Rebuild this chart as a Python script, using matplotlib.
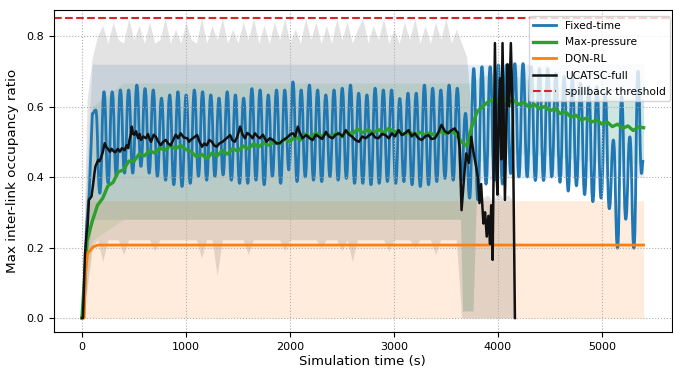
import numpy as np
import matplotlib
matplotlib.use("Agg")
import matplotlib.pyplot as plt
from matplotlib.path import Path
from matplotlib.patches import PathPatch

# ---- Fixed-time: one peak / one trough per signal cycle ----
cycle_s = 79
ft_start_t = [0, 25, 44, 70, 100]
ft_start_v = [0.0, 0.05, 0.26, 0.35, 0.58]
ft_peaks = [0.59, 0.642, 0.642, 0.647, 0.647, 0.661, 0.651, 0.647, 0.624, 0.633,
            0.642, 0.633, 0.647, 0.642, 0.633, 0.624, 0.642, 0.633, 0.624, 0.651,
            0.647, 0.633, 0.647, 0.647, 0.670, 0.647,
            0.661, 0.647, 0.633, 0.647, 0.652, 0.661, 0.638, 0.633, 0.652, 0.647,
            0.647, 0.623, 0.638, 0.638, 0.661, 0.652, 0.647, 0.661, 0.652,
            0.581,
            0.708, 0.713, 0.713, 0.718, 0.718, 0.722, 0.722, 0.713, 0.708,
            0.708, 0.694, 0.685, 0.680, 0.666, 0.656, 0.656, 0.637,
            0.505, 0.628, 0.514, 0.70]
ft_troughs = [0.354, 0.383, 0.402, 0.411, 0.411, 0.430, 0.411, 0.402, 0.391, 0.378,
              0.373, 0.382, 0.402, 0.391, 0.402, 0.406, 0.391, 0.382, 0.382, 0.391,
              0.378, 0.402, 0.382, 0.420, 0.387, 0.400,
              0.391, 0.387, 0.401, 0.391, 0.396, 0.382, 0.382, 0.378, 0.382, 0.387,
              0.382, 0.387, 0.378, 0.373, 0.378, 0.387, 0.396, 0.391, 0.391,
              0.34,
              0.335, 0.38, 0.39, 0.38, 0.41, 0.40, 0.40, 0.39, 0.39, 0.40,
              0.385, 0.36, 0.375, 0.35, 0.33, 0.34, 0.31, 0.198, 0.28, 0.198]
ft_end_t = [5380, 5395]
ft_end_v = [0.41, 0.445]

# ---- Max-pressure (sampled every 50 s) ----
mp_step = 50
mp_vals = [0.0, 0.22, 0.275, 0.32, 0.34, 0.375, 0.385, 0.415, 0.42, 0.445,
           0.445, 0.465, 0.46, 0.475, 0.468, 0.482, 0.476, 0.49, 0.48, 0.49,
           0.478, 0.472, 0.458, 0.465, 0.452, 0.468, 0.46, 0.475, 0.465, 0.48,
           0.474, 0.488, 0.48, 0.494, 0.486, 0.497, 0.49, 0.50, 0.494, 0.508,
           0.50, 0.515, 0.505, 0.522, 0.512, 0.525, 0.515, 0.524, 0.514, 0.526,
           0.515, 0.53, 0.522, 0.536, 0.526, 0.534, 0.524, 0.535, 0.526, 0.538,
           0.528, 0.53, 0.52, 0.528, 0.518, 0.527, 0.519, 0.526, 0.516, 0.53,
           0.522, 0.532, 0.52, 0.50, 0.488, 0.545, 0.585, 0.60, 0.612, 0.62,
           0.612, 0.622, 0.612, 0.618, 0.606, 0.612, 0.598, 0.606, 0.594, 0.60,
           0.588, 0.594, 0.58, 0.585, 0.57, 0.575, 0.562, 0.567, 0.556, 0.562,
           0.55, 0.556, 0.543, 0.55, 0.538, 0.545, 0.532, 0.542, 0.54]

# ---- DQN-RL ----
dqn_t = [0, 22, 35, 54, 76, 108, 156, 5400]
dqn_v = [0.0, 0.0, 0.127, 0.184, 0.19, 0.202, 0.207, 0.207]

# ---- UCATSC-full ----
uc_t = [0, 10, 29, 45, 54, 67, 80, 92, 108, 120, 130, 145, 156, 170, 187, 200, 219,
        235, 250, 270, 285, 298, 320, 346, 365, 385, 410, 430, 445, 457, 470, 479,
        492, 505, 520, 540, 555, 568, 590, 616, 635, 650, 664, 690, 711, 735, 759,
        780, 806, 830, 854, 878, 902, 925, 949, 980, 1013, 1030, 1045, 1075, 1108,
        1130, 1155, 1175, 1200, 1225, 1250, 1270, 1295, 1320, 1352, 1390, 1425,
        1445, 1470, 1495, 1521, 1545, 1568, 1590, 1616, 1640, 1663, 1690, 1711,
        1740, 1774, 1805, 1838, 1870, 1902, 1935, 1965, 2000, 2029, 2050, 2076,
        2092, 2120, 2156, 2190, 2219, 2250, 2280, 2310, 2346, 2375, 2410, 2440,
        2473, 2505, 2536, 2570, 2600, 2630, 2664, 2695, 2727, 2760, 2790, 2820,
        2850, 2885, 2917, 2950, 2980, 3010, 3045, 3076, 3110, 3140, 3170, 3200,
        3235, 3267, 3300, 3330, 3360, 3394, 3425, 3457, 3490, 3521, 3550, 3584,
        3600, 3616, 3632, 3650, 3664, 3680, 3695, 3720, 3743, 3765, 3790, 3806,
        3822, 3838, 3860, 3876, 3892, 3908, 3924, 3935, 3949, 3971, 3985, 3995,
        4008, 4020, 4032, 4044, 4067, 4092, 4108, 4124, 4143, 4163]
uc_v = [0.0, 0.0, 0.18, 0.24, 0.26, 0.335, 0.34, 0.345, 0.38, 0.41, 0.43, 0.44,
        0.448, 0.445, 0.458, 0.47, 0.496, 0.485, 0.48, 0.472, 0.48, 0.475, 0.47,
        0.48, 0.472, 0.482, 0.476, 0.49, 0.482, 0.505, 0.52, 0.543, 0.522, 0.52,
        0.53, 0.51, 0.522, 0.505, 0.515, 0.51, 0.522, 0.508, 0.50, 0.52, 0.514,
        0.50, 0.49, 0.50, 0.505, 0.495, 0.49, 0.505, 0.52, 0.51, 0.524, 0.512,
        0.51, 0.50, 0.505, 0.512, 0.519, 0.50, 0.486, 0.495, 0.49, 0.505, 0.50,
        0.49, 0.486, 0.495, 0.50, 0.51, 0.519, 0.505, 0.50, 0.515, 0.543, 0.52,
        0.51, 0.525, 0.519, 0.51, 0.524, 0.515, 0.51, 0.52, 0.50, 0.51, 0.505,
        0.495, 0.496, 0.505, 0.51, 0.52, 0.524, 0.515, 0.543, 0.528, 0.51, 0.519,
        0.51, 0.505, 0.52, 0.514, 0.508, 0.528, 0.515, 0.51, 0.52, 0.524, 0.515,
        0.533, 0.52, 0.514, 0.505, 0.50, 0.515, 0.51, 0.518, 0.524, 0.512, 0.51,
        0.522, 0.519, 0.51, 0.524, 0.515, 0.533, 0.519, 0.525, 0.533, 0.515,
        0.524, 0.51, 0.505, 0.515, 0.519, 0.508, 0.51, 0.525, 0.548, 0.53, 0.524,
        0.532, 0.538, 0.53, 0.526, 0.48, 0.306, 0.36, 0.42, 0.467, 0.44, 0.514,
        0.47, 0.43, 0.40, 0.326, 0.38, 0.268, 0.30, 0.231, 0.29, 0.21, 0.32,
        0.165, 0.78, 0.42, 0.35, 0.60, 0.68, 0.45, 0.78, 0.335, 0.72, 0.60, 0.78,
        0.56, 0.0]

# ---- spread bands across runs ----
ft_band_t = [0, 50, 100, 3640, 3660, 3760, 3800, 4200, 5140, 5150, 5160, 5300,
             5310, 5320, 5400]
ft_band_lo = [0.0, 0.15, 0.28, 0.28, 0.02, 0.02, 0.39, 0.40, 0.40, 0.19, 0.40,
              0.40, 0.19, 0.40, 0.40]
ft_band_hi = [0.0, 0.45, 0.72, 0.72, 0.72, 0.72, 0.72, 0.72, 0.72, 0.72, 0.72,
              0.72, 0.72, 0.72, 0.72]

mp_band_t = [0, 50, 100, 400, 3640, 3660, 3760, 3800, 4000, 4500, 5000, 5400]
mp_band_lo = [0.0, 0.10, 0.22, 0.28, 0.28, 0.02, 0.02, 0.44, 0.47, 0.46, 0.44, 0.44]
mp_band_hi = [0.0, 0.40, 0.60, 0.667, 0.667, 0.667, 0.667, 0.68, 0.70, 0.66, 0.63, 0.62]

dqn_band_t = [0, 22, 35, 5400]
dqn_band_lo = [0.0, 0.0, 0.0, 0.0]
dqn_band_hi = [0.0, 0.0, 0.333, 0.333]

uc_band_step = 50
uc_band_hi = [0.0, 0.62, 0.74, 0.80, 0.83, 0.78, 0.84, 0.79, 0.78, 0.85,
              0.79, 0.83, 0.78, 0.84, 0.78, 0.79, 0.85, 0.78, 0.82, 0.78,
              0.84, 0.79, 0.78, 0.85, 0.78, 0.83, 0.79, 0.85, 0.78, 0.82,
              0.78, 0.84, 0.79, 0.85, 0.78, 0.83, 0.78, 0.84, 0.79, 0.85,
              0.78, 0.82, 0.78, 0.85, 0.79, 0.84, 0.78, 0.83, 0.78, 0.85,
              0.79, 0.84, 0.78, 0.82, 0.85, 0.78, 0.83, 0.79, 0.85, 0.78,
              0.82, 0.78, 0.84, 0.79, 0.85, 0.78, 0.83, 0.78, 0.84, 0.79,
              0.85, 0.78, 0.82, 0.78, 0.74, 0.55, 0.36, 0.34, 0.35, 0.33,
              0.36, 0.34, 0.35, 0.33]
uc_band_lo = [0.0, 0.08, 0.20, 0.222, 0.16, 0.222, 0.222, 0.222, 0.18, 0.222,
              0.222, 0.222, 0.222, 0.222, 0.19, 0.222, 0.222, 0.222, 0.222, 0.222,
              0.222, 0.222, 0.222, 0.17, 0.222, 0.222, 0.12, 0.222, 0.222, 0.222,
              0.222, 0.222, 0.18, 0.222, 0.222, 0.222, 0.222, 0.222, 0.222, 0.19,
              0.222, 0.222, 0.222, 0.222, 0.222, 0.222, 0.20, 0.222, 0.222, 0.222,
              0.19, 0.222, 0.16, 0.222, 0.222, 0.222, 0.222, 0.222, 0.222, 0.19,
              0.222, 0.222, 0.222, 0.222, 0.20, 0.222, 0.222, 0.222, 0.18, 0.222,
              0.222, 0.222, 0.222, 0.0, 0.0, 0.0, 0.0, 0.0, 0.0, 0.0,
              0.0, 0.0, 0.0, 0.0]

threshold = 0.85

# build the Fixed-time polyline from cycle peaks and troughs
n_tr = len(ft_troughs)
peak_t = 133 + cycle_s * np.arange(len(ft_peaks))
trough_t = peak_t[:n_tr] + cycle_s / 2
cyc_t = np.concatenate([np.ravel(np.column_stack([peak_t[:n_tr], trough_t])), peak_t[n_tr:]])
cyc_v = np.concatenate([np.ravel(np.column_stack([ft_peaks[:n_tr], ft_troughs])), ft_peaks[n_tr:]])
mp_t = np.arange(len(mp_vals)) * mp_step
uc_band_t = np.arange(len(uc_band_hi)) * uc_band_step


def smooth_path(t_lin, v_lin, t_cur, v_cur):
    """Straight segments for the ramp-up, then flat-tangent cubic curves
    between successive turning points so each signal cycle looks rounded."""
    verts = list(zip(t_lin, v_lin))
    codes = [Path.MOVETO] + [Path.LINETO] * (len(verts) - 1)
    prev = verts[-1]
    for t, v in zip(t_cur, v_cur):
        half = (t - prev[0]) / 2
        verts += [(prev[0] + half, prev[1]), (t - half, v), (t, v)]
        codes += [Path.CURVE4] * 3
        prev = (t, v)
    return Path(verts, codes)


fig = plt.figure(figsize=(6.73, 3.69), dpi=100)
ax = fig.add_axes([0.080, 0.100, 0.918, 0.873])

ax.fill_between(ft_band_t, ft_band_lo, ft_band_hi, color='#1f77b4', alpha=0.13, lw=0)
ax.fill_between(mp_band_t, mp_band_lo, mp_band_hi, color='#2ca02c', alpha=0.10, lw=0)
ax.fill_between(dqn_band_t, dqn_band_lo, dqn_band_hi, color='#ff7f0e', alpha=0.14, lw=0)
ax.fill_between(uc_band_t, uc_band_lo, uc_band_hi, color='black', alpha=0.11, lw=0)

ft_path = smooth_path(ft_start_t, ft_start_v,
                      np.concatenate([cyc_t, ft_end_t]), np.concatenate([cyc_v, ft_end_v]))
ax.add_patch(PathPatch(ft_path, fill=False, edgecolor='#1f77b4', lw=2, capstyle='round',
                       joinstyle='round'))
ax.plot([], [], color='#1f77b4', lw=2, label='Fixed-time')
ax.plot(mp_t, mp_vals, color='#2ca02c', lw=2.4, label='Max-pressure')
ax.plot(dqn_t, dqn_v, color='#ff7f0e', lw=2, label='DQN-RL')
ax.plot(uc_t, uc_v, color='#111111', lw=1.8, label='UCATSC-full')
ax.axhline(threshold, color='#d62728', ls='--', lw=1.5, label='spillback threshold')

ax.set_xlim(-270, 5670)
ax.set_ylim(-0.04, 0.874)
ax.set_xticks([0, 1000, 2000, 3000, 4000, 5000])
ax.set_yticks([0.0, 0.2, 0.4, 0.6, 0.8])
ax.tick_params(labelsize=8)
ax.grid(True, ls=':', lw=0.8, color='#b0b0b0')
ax.set_xlabel('Simulation time (s)', fontsize=9.5, labelpad=2)
ax.set_ylabel('Max inter-link occupancy ratio', fontsize=9.7, labelpad=5)
ax.legend(loc='upper right', bbox_to_anchor=(1.0, 0.985), fontsize=7.7,
          labelspacing=0.62, handlelength=2.2, borderaxespad=0.15, framealpha=0.8)

fig.savefig('out.png', dpi=100)
